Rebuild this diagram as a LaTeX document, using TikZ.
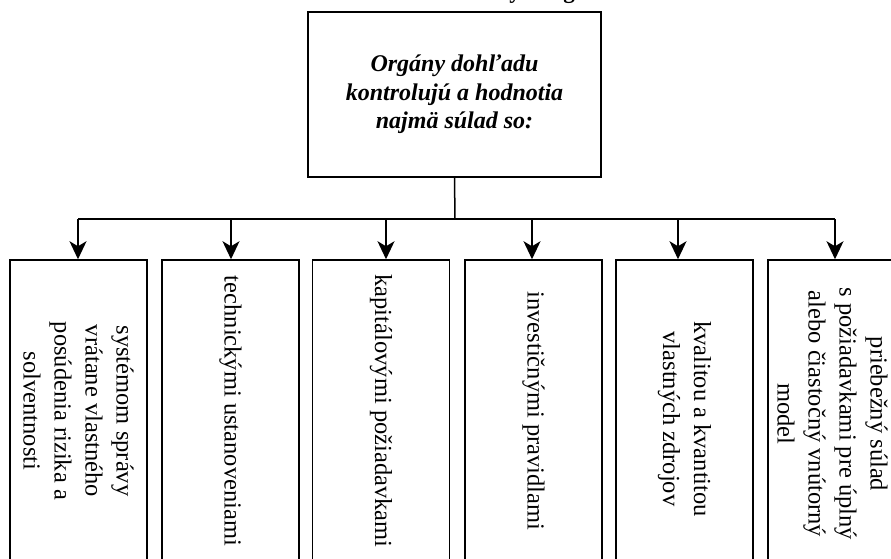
\documentclass[tikz,border=0pt]{standalone}
\usepackage{fontspec}
\setmainfont{Liberation Serif}
\usetikzlibrary{arrows.meta}
\begin{document}
\begin{tikzpicture}[x=1pt,y=-1pt,
  frame/.style={draw, line width=1.5pt, inner sep=0pt},
  topbox/.style={frame, minimum width=293pt, minimum height=165pt, align=center,
    font=\fontsize{24}{28.5}\selectfont\bfseries\itshape},
  leafbox/.style={frame, minimum width=137pt, minimum height=302pt},
  leaftext/.style={rotate=-90, align=center, inner sep=0pt,
    font=\fontsize{24.5}{31}\selectfont},
  headglyph/.style={anchor=base, inner sep=0pt, font=\fontsize{23}{28}\selectfont\bfseries},
  wire/.style={line width=1.5pt},
  feed/.style={wire, -{Stealth[length=18pt,width=17pt,inset=5pt]}}
]
\useasboundingbox (0,0) rectangle (891,559);
\clip (0,0) rectangle (891,559);

% heading line above the frame (only its descenders fall inside)
\node[headglyph] (hy) at (515,-1) {y};
\node[headglyph] (hg) at (569,-1) {g};

% root box
\node[topbox] (top) at (454.5,94.5) {Orgány dohľadu\\kontrolujú a hodnotia\\najmä súlad so:};

% leaf boxes
\node[leafbox] (b1) at (78.5,411) {};
\node[leafbox] (b2) at (230.5,411) {};
\node[leafbox] (b3) at (381,411) {};
\node[leafbox] (b4) at (533.5,411) {};
\node[leafbox] (b5) at (684.5,411) {};
\node[leafbox] (b6) at (836.5,411) {};

% vertical labels
\node[leaftext] (t1) at (b1.center) {systémom správy\\vrátane vlastného\\posúdenia rizika a\\solventnosti};
\node[leaftext] (t2) at (b2.center) {technickými ustanoveniami};
\node[leaftext] (t3) at (b3.center) {kapitálovými požiadavkami};
\node[leaftext] (t4) at (b4.center) {investičnými pravidlami};
\node[leaftext] (t5) at ([yshift=-8]b5.center) {kvalitou a kvantitou\\vlastných zdrojov};
\node[leaftext] (t6) at ([xshift=-4,yshift=-3]b6.center) {priebežný súlad\\s požiadavkami pre úplný\\alebo čiastočný vnútorný\\model};

% distribution bus
\coordinate (j) at (455,219);
\coordinate (c1) at (78,219);
\coordinate (c2) at (231,219);
\coordinate (c3) at (386,219);
\coordinate (c4) at (532,219);
\coordinate (c5) at (678,219);
\coordinate (c6) at (835,219);

\draw[wire] (top.south) -- (j);
\draw[wire] (c1) -- (c6);
\foreach \i in {1,...,6}
  \draw[feed] (c\i) -- (c\i |- b\i.north);
\end{tikzpicture}
\end{document}
